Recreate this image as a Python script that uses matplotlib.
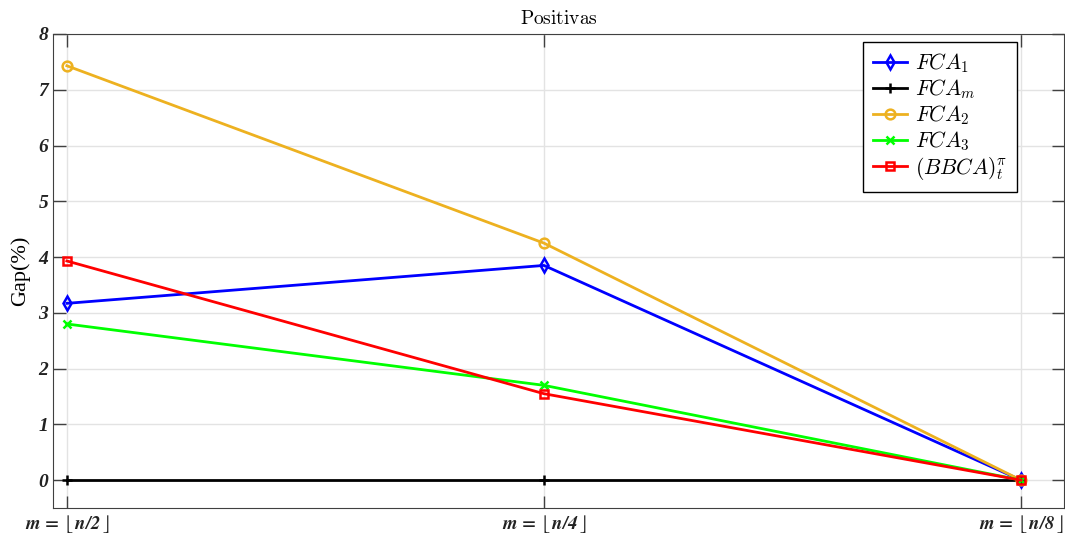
import numpy as np
import matplotlib
matplotlib.use("Agg")
from matplotlib import pyplot as plt

# Datos
categorias = [r"$\mathbfit{m}\,\mathbf{=}\,\lfloor\,\mathbfit{n/2}\,\rfloor$",
              r"$\mathbfit{m}\,\mathbf{=}\,\lfloor\,\mathbfit{n/4}\,\rfloor$",
              r"$\mathbfit{m}\,\mathbf{=}\,\lfloor\,\mathbfit{n/8}\,\rfloor$"]
fca1 = [3.17, 3.85, 0.0]
fcam = [0.0, 0.0, 0.0]
fca2 = [7.43, 4.25, 0.0]
fca3 = [2.80, 1.70, 0.0]
bbca = [3.93, 1.55, 0.0]

plt.rcParams["mathtext.fontset"] = "cm"
serif = ["Liberation Serif", "DejaVu Serif"]

x = np.arange(1, len(categorias) + 1)

fig = plt.figure(figsize=(10.65, 5.36), dpi=100)
ax = fig.add_axes([0.0498, 0.0522, 0.9492, 0.8844])

lw = 2.0
ax.plot(x, fca1, color="#0000ff", lw=lw, marker="d", ms=7, mfc="none", mew=1.8,
        label=r"$FCA_1$")
ax.plot(x, fcam, color="black", lw=lw, marker="+", ms=7, mew=1.8,
        label=r"$FCA_m$")
ax.plot(x, fca2, color="#edb120", lw=lw, marker="o", ms=7, mfc="none", mew=1.8,
        label=r"$FCA_2$")
ax.plot(x, fca3, color="#00ff00", lw=lw, marker="x", ms=6, mew=1.8,
        label=r"$FCA_3$")
ax.plot(x, bbca, color="#ff0000", lw=lw, marker="s", ms=6, mfc="none", mew=1.8,
        label=r"$(BBCA)_t^{\pi}$")

ax.set_xlim(0.971, 3.09)
ax.set_ylim(-0.5, 8)
ax.set_xticks(x)
ax.set_xticklabels(categorias)
ax.set_yticks(np.arange(0, 9, 1))

for lab in ax.get_xticklabels():
    lab.set_math_fontfamily("stix")
    lab.set_fontsize(13.5)
for lab in ax.get_yticklabels():
    lab.set_family(serif)
    lab.set_fontweight("bold")
    lab.set_fontstyle("italic")
    lab.set_fontsize(14)

ax.tick_params(direction="in", length=9, width=1, colors="#404040",
               top=True, right=True, labelcolor="#222222")
ax.grid(True, color="#e3e3e3", lw=1)
ax.set_axisbelow(True)
for s in ax.spines.values():
    s.set_color("#404040")

ax.set_ylabel("Gap(%)", family=serif, fontsize=16, labelpad=6)
ax.set_title(r"$\mathrm{Positivas}$", fontsize=14, pad=7)

leg = ax.legend(loc="upper right", bbox_to_anchor=(0.9535, 0.983), fontsize=15.5,
                fancybox=False, framealpha=1, edgecolor="black",
                handlelength=1.6, handletextpad=0.35, borderpad=0.45,
                labelspacing=0.1, borderaxespad=0)
leg.get_frame().set_linewidth(1.0)

fig.savefig("out.png", dpi=100)
